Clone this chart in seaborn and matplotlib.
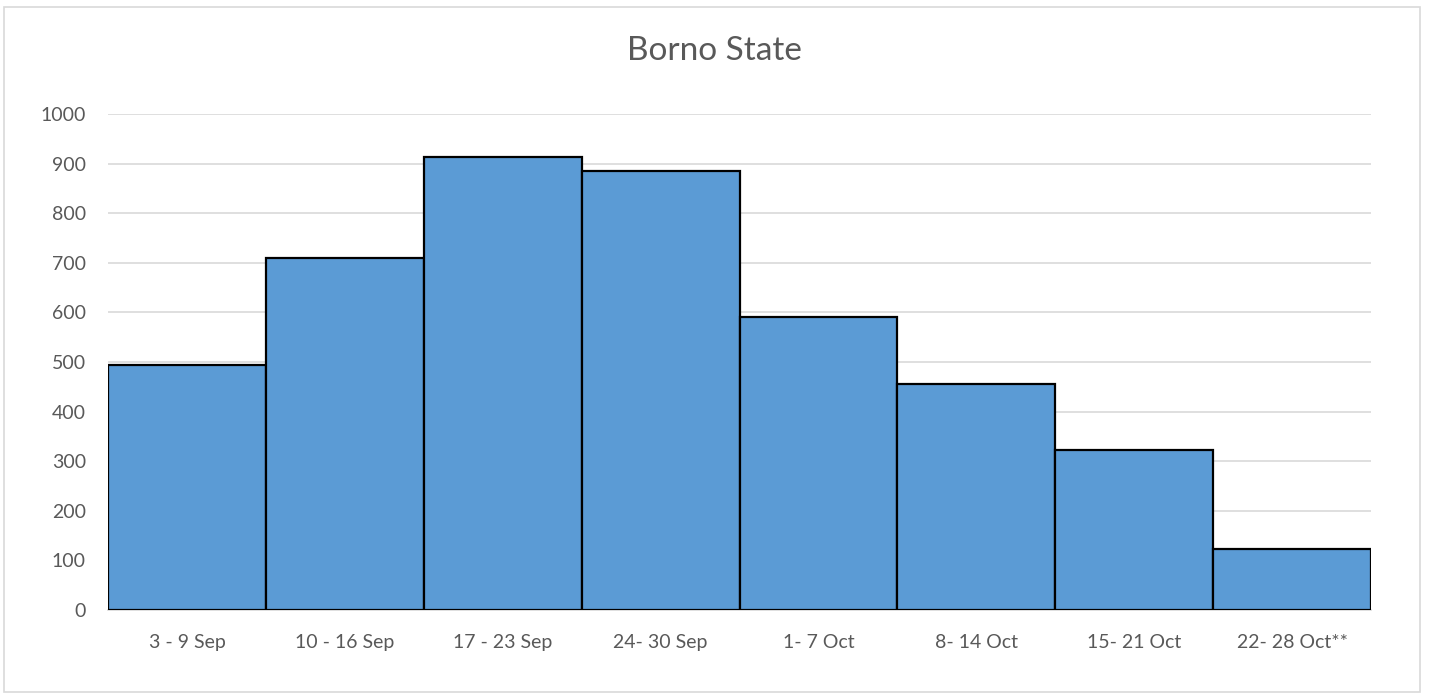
import pandas as pd
import matplotlib.pyplot as plt
import seaborn as sns
from matplotlib.patches import Rectangle

# Weekly counts, Borno State
weeks = ['3 - 9 Sep', '10 - 16 Sep', '17 - 23 Sep', '24- 30 Sep',
         '1- 7 Oct', '8- 14 Oct', '15- 21 Oct', '22- 28 Oct**']
counts = [493, 710, 913, 885, 591, 456, 323, 123]

df = pd.DataFrame({'Week': weeks, 'Count': counts})

sns.set_style('white')
plt.rcParams['font.family'] = ['Lato', 'DejaVu Sans']
text_grey = '#595959'
grid_grey = '#D9D9D9'

fig = plt.figure(figsize=(14.29, 6.93), dpi=100)
ax = fig.add_axes([0.0756, 0.1198, 0.8838, 0.7157])

sns.barplot(x='Week', y='Count', data=df, color='#5B9BD5', saturation=1,
            width=1.0, edgecolor='black', linewidth=1.6, ax=ax, zorder=3)

ax.set_ylim(0, 1000)
ax.set_xlim(-0.5, len(weeks) - 0.5)
ax.set_yticks(range(0, 1001, 100))
ax.yaxis.grid(True, color=grid_grey, linewidth=1.2, zorder=0)
ax.set_axisbelow(True)
for side in ['top', 'left', 'right']:
    ax.spines[side].set_visible(False)
ax.spines['bottom'].set_color(grid_grey)
ax.spines['bottom'].set_linewidth(1.2)
ax.tick_params(axis='both', length=0, labelsize=14, colors=text_grey)
ax.tick_params(axis='y', pad=16)
ax.tick_params(axis='x', pad=17)
ax.set_xlabel('')
ax.set_ylabel('')

fig.text(0.5, 0.926, 'Borno State', ha='center', va='center',
         fontsize=24, color=text_grey)

# outer chart border
fig.patches.append(Rectangle((0.003, 0.002), 0.991, 0.988, transform=fig.transFigure,
                             fill=False, edgecolor=grid_grey, linewidth=1.2))

fig.savefig('out.png', dpi=100)
